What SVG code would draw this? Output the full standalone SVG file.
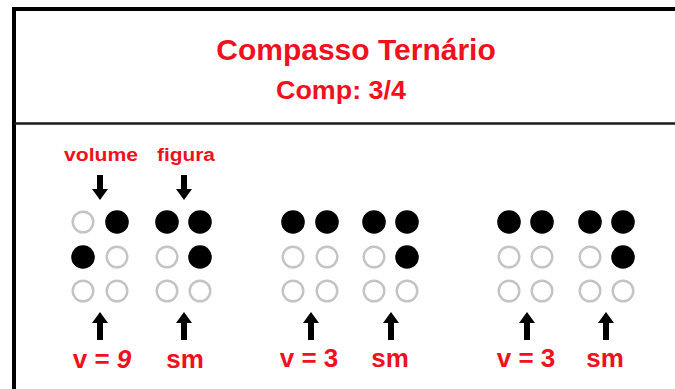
<svg xmlns="http://www.w3.org/2000/svg" width="675" height="389" viewBox="0 0 675 389">
<style>
text{font-family:"Liberation Sans",Arial,sans-serif;font-weight:bold;fill:#f0101e;text-anchor:middle}
.on{fill:#000}
.off{fill:none;stroke:#c4c4c4;stroke-width:2.4}
.ar{fill:#000}
</style>
<defs>
<circle id="f" r="11.8" class="on"/>
<circle id="e" r="10.3" class="off"/>
<path id="dn" d="M-3,-25 H3 V-11 H8 L0,0 L-8,-11 H-3 Z"/>
<path id="up" d="M-3,28 H3 V11 H8 L0,0 L-8,11 H-3 Z"/>
</defs>
<rect width="675" height="389" fill="#fff"/>
<g id="frame" fill="none" stroke="#000">
<path d="M14,389 V9 H675" stroke-width="4"/>
<path d="M14,123.5 H675" stroke-width="2.5" stroke="#1a1a1a"/>
</g>
<g id="title">
<text x="356" y="60" font-size="30">Compasso Ternário</text>
<text x="341" y="99" font-size="25" textLength="130" lengthAdjust="spacingAndGlyphs">Comp: 3/4</text>
</g>
<g id="cell1">
<text x="101" y="161" font-size="18" textLength="74" lengthAdjust="spacingAndGlyphs">volume</text>
<use href="#e" x="83" y="222"/><use href="#f" x="117" y="222"/>
<use href="#f" x="83" y="257"/><use href="#e" x="117" y="257"/>
<use href="#e" x="83" y="291"/><use href="#e" x="117" y="291"/>
<text x="102" y="368" font-size="26">v = <tspan font-style="italic">9</tspan></text>
</g>
<g id="cell2">
<text x="186" y="161" font-size="18" textLength="58" lengthAdjust="spacingAndGlyphs">figura</text>
<use href="#f" x="167" y="222"/><use href="#f" x="200" y="222"/>
<use href="#e" x="167" y="257"/><use href="#f" x="200" y="257"/>
<use href="#e" x="167" y="291"/><use href="#e" x="200" y="291"/>
<text x="185" y="368" font-size="26">sm</text>
</g>
<g id="cell3">
<use href="#f" x="293" y="222"/><use href="#f" x="327" y="222"/>
<use href="#e" x="293" y="257"/><use href="#e" x="327" y="257"/>
<use href="#e" x="293" y="291"/><use href="#e" x="327" y="291"/>
<text x="309" y="367" font-size="26">v = 3</text>
</g>
<g id="cell4">
<use href="#f" x="374" y="222"/><use href="#f" x="407" y="222"/>
<use href="#e" x="374" y="257"/><use href="#f" x="407" y="257"/>
<use href="#e" x="374" y="291"/><use href="#e" x="407" y="291"/>
<text x="390" y="367" font-size="26">sm</text>
</g>
<g id="cell5">
<use href="#f" x="509" y="222"/><use href="#f" x="542" y="222"/>
<use href="#e" x="509" y="257"/><use href="#e" x="542" y="257"/>
<use href="#e" x="509" y="291"/><use href="#e" x="542" y="291"/>
<text x="526" y="367" font-size="26">v = 3</text>
</g>
<g id="cell6">
<use href="#f" x="590" y="222"/><use href="#f" x="623" y="222"/>
<use href="#e" x="590" y="257"/><use href="#f" x="623" y="257"/>
<use href="#e" x="590" y="291"/><use href="#e" x="623" y="291"/>
<text x="605" y="367" font-size="26">sm</text>
</g>
<g id="connectors" class="ar">
<use href="#dn" x="100" y="200"/>
<use href="#dn" x="184" y="200"/>
<use href="#up" x="100" y="312"/>
<use href="#up" x="184" y="312"/>
<use href="#up" x="311" y="312"/>
<use href="#up" x="391" y="312"/>
<use href="#up" x="527" y="312"/>
<use href="#up" x="606" y="312"/>
</g>
</svg>
